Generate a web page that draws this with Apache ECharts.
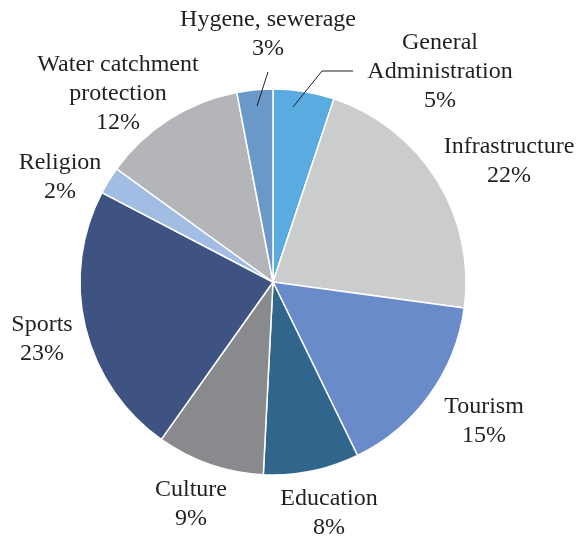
<!DOCTYPE html>
<html><head><meta charset="utf-8">
<script src="https://cdn.jsdelivr.net/npm/echarts@6/dist/echarts.min.js"></script>
<style>html,body{margin:0;padding:0;background:#fff}#c{width:579px;height:537px}</style>
</head><body><div id="c"></div>
<script>
var categories = ['General\nAdministration','Infrastructure','Tourism','Education','Culture','Sports','Religion','Water catchment\nprotection','Hygene, sewerage'];
var values = [5.1, 22, 15.6, 8, 9, 22.8, 2.3, 12, 3];
var percentLabels = ['5%','22%','15%','8%','9%','23%','2%','12%','3%'];
var colors = ['#5aabe0','#cbcccd','#6a8bc9','#31668c','#898a8e','#3e5382','#a2bde4','#b4b5b8','#6a98c8'];

// label centre positions (px) per slice index
var labelPos = [[440,72],[509,161],[484,421],[329,513],[191,504],[42,339],[60,177],[118,94],[268,34]];
var leaderLines = [
  [[293,107],[322,71],[353,71]],
  [[257,106],[268,72]]
];

var chart = echarts.init(document.getElementById('c'));
chart.setOption({
  animation:false,
  graphic: leaderLines.map(function(pts){
    return {type:'polyline', z:100, shape:{points:pts}, style:{stroke:'#231f20', lineWidth:1, fill:null}};
  }),
  series:[{
    type:'pie',
    center:[273,282],
    radius:193,
    startAngle:90,
    clockwise:true,
    itemStyle:{borderColor:'#fff',borderWidth:1.5},
    label:{
      show:true, position:'outside', overflow:'none', width:300,
      fontFamily:'Liberation Serif', fontSize:24, lineHeight:29, color:'#231f20',
      formatter:function(p){return p.name+'\n'+percentLabels[p.dataIndex];}
    },
    labelLine:{show:false},
    labelLayout:function(p){
      var pos = labelPos[p.dataIndex];
      return {x:pos[0], y:pos[1], align:'center', verticalAlign:'middle'};
    },
    data: categories.map(function(c,i){
      return {name:c, value:values[i], itemStyle:{color:colors[i]}};
    })
  }]
});
</script></body></html>
